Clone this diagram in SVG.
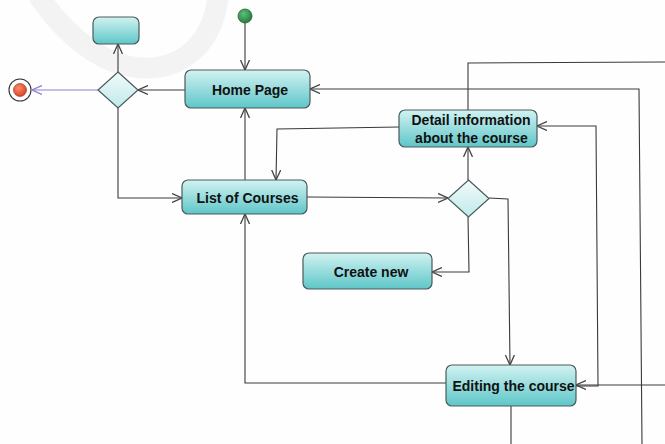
<svg xmlns="http://www.w3.org/2000/svg" width="665" height="444" viewBox="0 0 665 444">
<defs>
<linearGradient id="g" x1="0" y1="0" x2="0" y2="1">
<stop offset="0" stop-color="#d2f2f2"/>
<stop offset="1" stop-color="#5ec6c8"/>
</linearGradient>
<linearGradient id="gd" x1="0" y1="0" x2="0" y2="1">
<stop offset="0" stop-color="#f2fbfb"/>
<stop offset="1" stop-color="#bfe9ea"/>
</linearGradient>
<radialGradient id="gs" cx="0.4" cy="0.35" r="0.7">
<stop offset="0" stop-color="#5cc07a"/>
<stop offset="1" stop-color="#1e7a3a"/>
</radialGradient>
<radialGradient id="gf" cx="0.4" cy="0.35" r="0.7">
<stop offset="0" stop-color="#ff8a6a"/>
<stop offset="1" stop-color="#d8401e"/>
</radialGradient>
<marker id="a" viewBox="0 0 10 10" refX="10" refY="5" markerWidth="10" markerHeight="10" markerUnits="userSpaceOnUse" orient="auto">
<path d="M0,0.5 L10,5 L0,9.5" fill="none" stroke="#444" stroke-width="1.3"/>
</marker>
<marker id="ap" viewBox="0 0 10 10" refX="10" refY="5" markerWidth="10" markerHeight="10" markerUnits="userSpaceOnUse" orient="auto">
<path d="M0,0.5 L10,5 L0,9.5" fill="none" stroke="#8a80d0" stroke-width="1.3"/>
</marker>
</defs>
<style>
.n{fill:url(#g);stroke:#4a5a5a;stroke-width:1.2}
.d{fill:url(#gd);stroke:#4a5a5a;stroke-width:1.2}
.t{font-family:"Liberation Sans",Arial,sans-serif;font-size:14px;font-weight:bold;fill:#111;text-anchor:middle}
.c{fill:none;stroke:#3a3a3a;stroke-width:1.1}
.e{marker-end:url(#a)}
</style>
<rect width="665" height="444" fill="#fefefe"/>
<path d="M38,-5 C65,35 105,70 150,68 C190,66 215,35 218,-5" fill="none" stroke="#f3f3f3" stroke-width="21"/>
<g id="connectors">
<path class="c e" d="M245,23 L245,70"/>
<path class="c e" d="M185,90 L138,90"/>
<path class="c e" d="M118,72 L118,44"/>
<path d="M98,90 L32,90" fill="none" stroke="#8a80d0" stroke-width="1.1" marker-end="url(#ap)"/>
<path class="c e" d="M118,108 L118,198 L182,198"/>
<path class="c e" d="M245,180 L245,108"/>
<path class="c e" d="M399,127 L277,129 L276,180"/>
<path class="c e" d="M307,197 L448,198"/>
<path class="c e" d="M468,180 L468,147"/>
<path class="c e" d="M468,217 L469,272 L432,272"/>
<path class="c e" d="M489,198 L508,199 L510,365"/>
<path class="c e" d="M446,383 L245,383 L245,214"/>
<path class="c" d="M468,110 L468,63 L665,62"/>
<path class="c e" d="M642,444 L639,89 L310,89"/>
<path class="c e" d="M576,386 L598,386 L596,126 L537,126"/>
<path class="c e" d="M665,385 L576,385"/>
<path class="c" d="M511,406 L511,444"/>
</g>
<g id="start"><circle cx="245" cy="16" r="7" fill="url(#gs)" stroke="#2a5a3a" stroke-width="0.8"/></g>
<g id="final"><circle cx="20" cy="90" r="11" fill="#fff" stroke="#333" stroke-width="1.1"/><circle cx="20" cy="90" r="6.5" fill="url(#gf)" stroke="#8a2a1a" stroke-width="0.6"/></g>
<g id="blank"><rect class="n" x="93" y="17" width="46" height="27" rx="6"/></g>
<g id="dec1"><path class="d" d="M118,72 L138,90 L118,108 L98,90 Z"/></g>
<g id="home"><rect class="n" x="185" y="70" width="125" height="38" rx="6"/><text class="t" x="250" y="95">Home Page</text></g>
<g id="list"><rect class="n" x="182" y="180" width="125" height="34" rx="6"/><text class="t" x="247.5" y="203">List of Courses</text></g>
<g id="detail"><rect class="n" x="399" y="110" width="138" height="37" rx="6"/><text class="t" x="471" y="125">Detail information</text><text class="t" x="471.5" y="143">about the course</text></g>
<g id="dec2"><path class="d" d="M468.5,180 L489,198.5 L468.5,217 L448,198.5 Z"/></g>
<g id="create"><rect class="n" x="303" y="253" width="129" height="36" rx="6"/><text class="t" x="371" y="277">Create new</text></g>
<g id="edit"><rect class="n" x="446" y="365" width="130" height="41" rx="6"/><text class="t" x="513.5" y="391">Editing the course</text></g>
</svg>
